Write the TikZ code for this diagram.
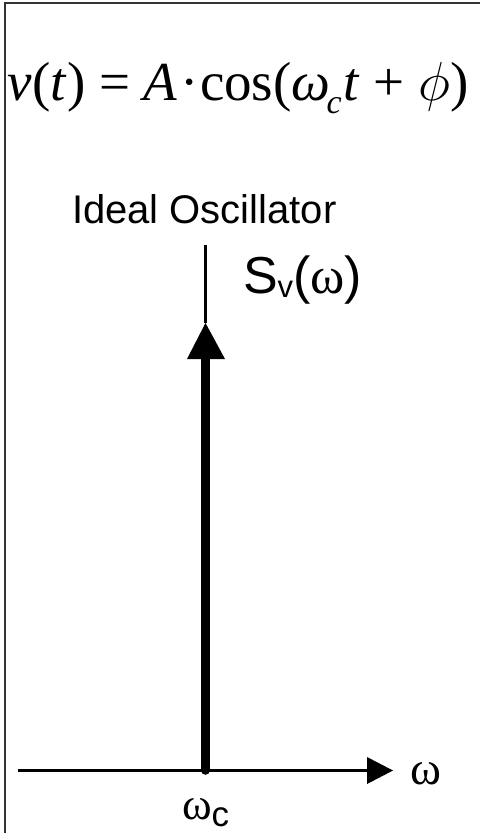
\RequirePackage{fix-cm}
\documentclass[tikz,border=0pt]{standalone}
\usepackage{fontspec}
\setmainfont{Liberation Serif}
\newfontfamily\arial{Liberation Sans}
\begin{document}
\begin{tikzpicture}[x=1pt,y=1pt,
  txt/.style={inner sep=0pt, outer sep=0pt, anchor=base west},
  framel/.style={draw=black!80, line width=2pt},
  axisl/.style={line width=3pt, black},
  thinl/.style={line width=2.6pt, black},
  thickl/.style={line width=8.5pt, black, line cap=round},
  headf/.style={fill=black}]
\useasboundingbox (0,0) rectangle (480,-833);
% frame (top and left edges)
\coordinate (fTL) at (5,-3);
\coordinate (fTR) at (480,-3);
\coordinate (fBL) at (5,-833);
\draw[framel] (fTR) -- (fTL) -- (fBL);
% formula
\node[txt] (formula) at (8,-100) {\fontsize{55}{60}\selectfont\textit{v}(\textit{t}) = \textit{A}\kern3pt·\kern1pt cos(\textit{ω}\kern-4pt\raisebox{-13pt}{\fontsize{34}{40}\selectfont\textit{c}}\kern2pt\textit{t} + $\phi$)};
% title
\node[txt] (title) at (72,-223) {\arial\fontsize{40}{44}\selectfont Ideal Oscillator};
% spectrum label
\node[txt] (slabel) at (243,-293) {\arial\fontsize{52}{58}\selectfont S\raisebox{-4pt}{\fontsize{31}{36}\selectfont v}(\rmfamily ω\arial)};
% axis
\coordinate (axL) at (18,-770.5);
\coordinate (axE) at (367,-770.5);
\coordinate (axT) at (393,-770.5);
\draw[axisl] (axL) -- (axE);
\fill[headf] (axT) -- (367,-757) -- (367,-784) -- cycle;
\node[txt] (wlabel) at (410,-784) {\fontsize{47}{52}\selectfont ω};
% impulse
\coordinate (orig) at (205.5,-770.5);
\coordinate (vbase) at (205.5,-356);
\coordinate (vtip) at (205.5,-323);
\coordinate (vtop) at (205.5,-245);
\draw[thinl] (vtop) -- (vtip);
\draw[thickl] (orig) -- (vbase);
\fill[headf] (vtip) -- (187,-359) -- (225,-359) -- cycle;
% omega_c
\node[txt] (wc) at (182,-819) {\fontsize{45}{50}\selectfont ω\arial\raisebox{-7pt}{\fontsize{35}{40}\selectfont c}};
\end{tikzpicture}
\end{document}
